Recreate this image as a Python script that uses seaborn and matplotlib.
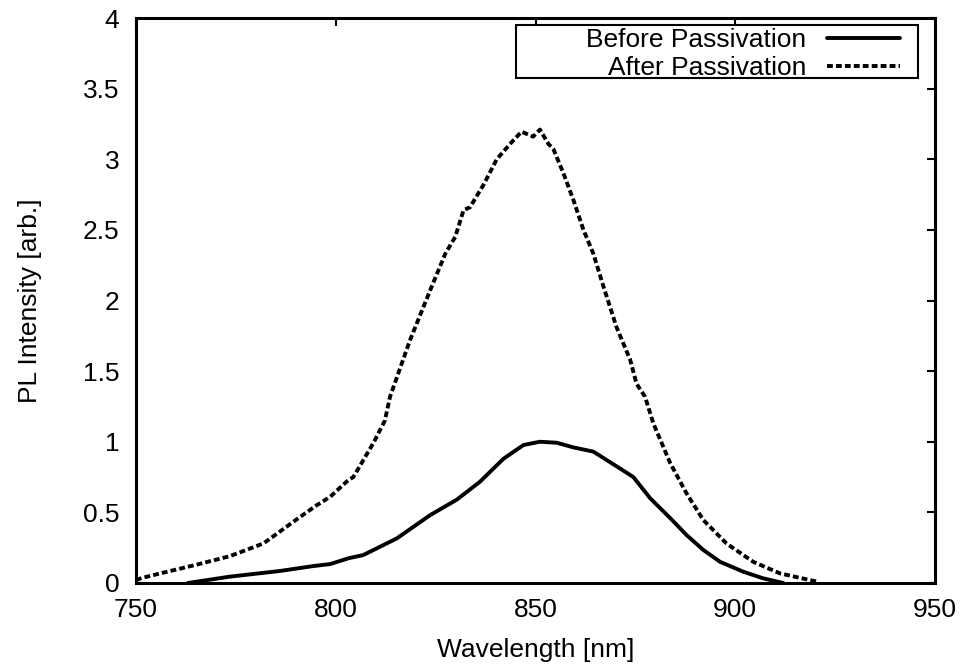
import matplotlib
matplotlib.use("Agg")
import matplotlib.pyplot as plt
import seaborn as sns
import pandas as pd
from matplotlib.ticker import FuncFormatter, MultipleLocator
from matplotlib.patches import Rectangle

# Data
before_wl = [763, 773.5, 786, 794.4, 798.6, 803.2, 806.9, 815.3, 823.6, 830.3, 836.1, 842, 847,
             851.1, 855.3, 859.5, 864.5, 871.2, 874.5, 878.7, 883.7, 887.8, 892, 896.2, 902, 907, 912]
before_pl = [0.0, 0.045, 0.085, 0.12, 0.134, 0.175, 0.198, 0.316, 0.48, 0.59, 0.717, 0.88, 0.977,
             1.0, 0.993, 0.96, 0.93, 0.81, 0.75, 0.6, 0.46, 0.34, 0.234, 0.15, 0.08, 0.033, 0.0]

after_wl = [750, 751.4, 756.8, 765.2, 773.5, 781.9, 790.2, 795.2, 798.6, 803.2, 804.4, 809.4, 812.3,
            813.6, 818.6, 823.6, 827.4, 829.9, 832, 833.6, 837, 840.3, 844, 846.5, 849.4, 851.1,
            853.2, 854.5, 857, 859.5, 862, 864.5, 867, 870.3, 873.7, 875.3, 877.4, 879.5, 883.7,
            887.8, 892, 897.8, 904.5, 911.2, 920.4]
after_pl = [0.02, 0.035, 0.073, 0.13, 0.19, 0.28, 0.45, 0.55, 0.61, 0.73, 0.75, 0.99, 1.15,
            1.32, 1.72, 2.07, 2.33, 2.45, 2.64, 2.66, 2.82, 3.0, 3.12, 3.195, 3.16, 3.21,
            3.11, 3.07, 2.90, 2.71, 2.50, 2.33, 2.10, 1.81, 1.58, 1.41, 1.32, 1.13, 0.85,
            0.635, 0.446, 0.28, 0.15, 0.068, 0.01]

x_ticks = [750, 800, 850, 900, 950]
labels = ["Before Passivation", "After Passivation"]

sns.set_style("white")
plt.rcParams['font.family'] = ['Liberation Sans', 'DejaVu Sans']
plt.rcParams['text.color'] = 'black'
plt.rcParams['axes.labelcolor'] = 'black'

FS = 19
W, H = 964, 669
fig = plt.figure(figsize=(W / 100, H / 100), dpi=100)
L, R, T, B = 136, 935, 18, 583
ax = fig.add_axes([L / W, (H - B) / H, (R - L) / W, (B - T) / H])

def axfrac(px, py):
    return (px - L) / (R - L), (B - py) / (B - T)

df_b = pd.DataFrame({"wl": before_wl, "pl": before_pl})
df_a = pd.DataFrame({"wl": after_wl, "pl": after_pl})
sns.lineplot(data=df_b, x="wl", y="pl", ax=ax, color="black", lw=2.8,
             label=labels[0], sort=True)
sns.lineplot(data=df_a, x="wl", y="pl", ax=ax, color="black", lw=2.8,
             linestyle=(0, (1.5, 0.8)), label=labels[1], sort=True)

ax.set_xlim(750, 950)
ax.set_ylim(0, 4)
ax.set_xticks(x_ticks)
ax.yaxis.set_major_locator(MultipleLocator(0.5))
ax.yaxis.set_major_formatter(FuncFormatter(lambda v, p: "%g" % v))
ax.tick_params(direction="in", length=6, width=1.5, top=True, right=True,
               labelsize=FS, colors="black")
ax.tick_params(axis="x", pad=11)
ax.tick_params(axis="y", pad=12)
for s in ax.spines.values():
    s.set_visible(True)
    s.set_color("black")
    s.set_linewidth(2.2)

ax.set_xlabel("Wavelength [nm]", fontsize=FS, labelpad=11, color="black")
ax.set_ylabel("PL Intensity [arb.]", fontsize=FS, labelpad=29, color="black")

# legend box (gnuplot-style, wider than its content)
x0, y1 = axfrac(516, 25)
x1, y0 = axfrac(918, 78)
ax.add_patch(Rectangle((x0, y0), x1 - x0, y1 - y0, transform=ax.transAxes,
                       fill=False, edgecolor="black", lw=1.5, zorder=5))

ax_x, ax_y = axfrac(900, 28)
leg = ax.legend(loc="upper right", markerfirst=False, frameon=False,
                fontsize=FS, handlelength=2.76, borderpad=0, labelspacing=0.15,
                bbox_to_anchor=(ax_x, ax_y), borderaxespad=0, handletextpad=0.8)
for t in leg.get_texts():
    t.set_color("black")

fig.savefig("out.png", dpi=100)
